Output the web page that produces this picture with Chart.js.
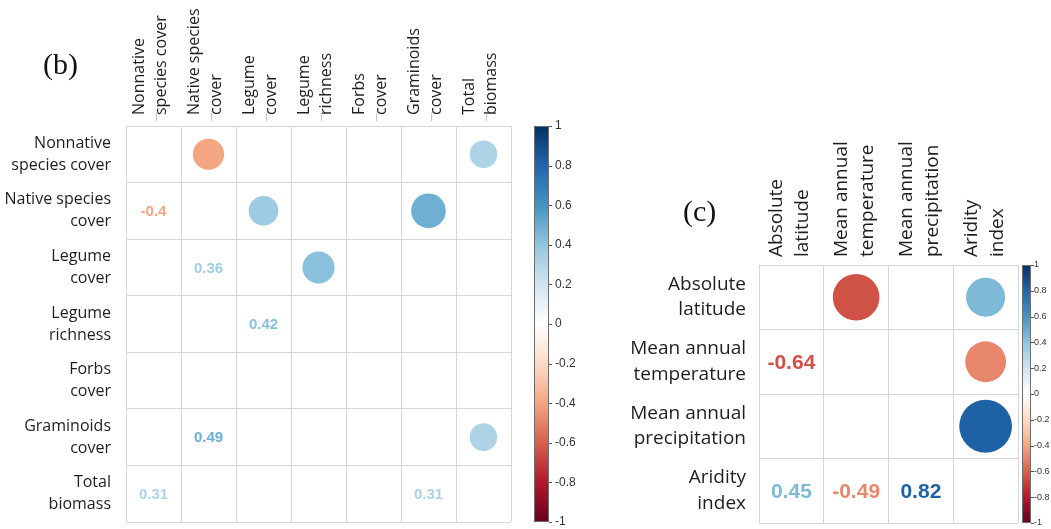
<!DOCTYPE html>
<html>
<head>
<meta charset="utf-8">
<script src="https://cdn.jsdelivr.net/npm/chart.js@4.4.1/dist/chart.umd.min.js"></script>
<style>
  html, body { margin: 0; padding: 0; background: #ffffff; }
  #wrap { position: relative; width: 1051px; height: 529px; overflow: hidden; background: #ffffff; }
  canvas { position: absolute; top: 0; }
  #chartB { left: 0; }
  #chartC { left: 600px; }
</style>
</head>
<body>
<div id="wrap">
  <canvas id="chartB" width="600" height="529"></canvas>
  <canvas id="chartC" width="451" height="529"></canvas>
</div>
<script>
// ---- Panel (b): vegetation variables ----
const bVars = [
  "Nonnative species cover",
  "Native species cover",
  "Legume cover",
  "Legume richness",
  "Forbs cover",
  "Graminoids cover",
  "Total biomass"
];
const bLines = [
  ["Nonnative", "species cover"],
  ["Native species", "cover"],
  ["Legume", "cover"],
  ["Legume", "richness"],
  ["Forbs", "cover"],
  ["Graminoids", "cover"],
  ["Total", "biomass"]
];
// significant pairs: variable A (circle row), variable B (circle column), r
const bPairA = [0, 0, 1, 1, 2, 5];
const bPairB = [1, 6, 2, 5, 3, 6];
const bPairR = [-0.4, 0.31, 0.36, 0.49, 0.42, 0.31];

// ---- Panel (c): climate variables ----
const cVars = [
  "Absolute latitude",
  "Mean annual temperature",
  "Mean annual precipitation",
  "Aridity index"
];
const cLines = [
  ["Absolute", "latitude"],
  ["Mean annual", "temperature"],
  ["Mean annual", "precipitation"],
  ["Aridity", "index"]
];
const cPairA = [0, 0, 1, 2];
const cPairB = [1, 3, 3, 3];
const cPairR = [-0.64, 0.45, -0.49, 0.82];

// colour-bar range
const barMin = -1;
const barMax = 1;
const barStep = 0.2;

// RdBu diverging palette, from -1 to 1
const rdbuStops = ["#67001F", "#B2182B", "#D6604D", "#F4A582", "#FDDBC7", "#FFFFFF",
                   "#D1E5F0", "#92C5DE", "#4393C3", "#2166AC", "#053061"];

const GRID = "#d6d6d6";
const INK = "#1e1e1e";

function hexRgb(h) {
  return [parseInt(h.slice(1, 3), 16), parseInt(h.slice(3, 5), 16), parseInt(h.slice(5, 7), 16)];
}
function corrColor(r) {
  const t = (Math.max(-1, Math.min(1, r)) + 1) / 2 * (rdbuStops.length - 1);
  const i = Math.min(Math.floor(t), rdbuStops.length - 2);
  const f = t - i;
  const a = hexRgb(rdbuStops[i]), b = hexRgb(rdbuStops[i + 1]);
  const c = a.map((v, k) => Math.round(v + (b[k] - v) * f));
  return `rgb(${c[0]},${c[1]},${c[2]})`;
}
function fmtTick(v) {
  const n = Math.round(v * 10) / 10;
  return n === 0 ? "0" : String(n);
}
// axes keep their fixed size and never ask the layout for label overflow room
function fixBox(size) {
  return s => {
    if (s.isHorizontal()) s.height = size; else s.width = size;
    s.paddingTop = 0; s.paddingBottom = 0; s.paddingLeft = 0; s.paddingRight = 0;
  };
}

// rotated two-line column headers, placed at the x scale's category centres
const colLabelPlugin = {
  id: "colLabels",
  afterDraw(chart, args, o) {
    const sx = chart.scales.x;
    const ctx = chart.ctx;
    const y0 = chart.chartArea.top - o.gap;
    ctx.save();
    ctx.font = `${o.size}px 'Open Sans', sans-serif`;
    ctx.fillStyle = INK;
    ctx.textAlign = "left";
    ctx.textBaseline = "middle";
    o.lines.forEach((lines, i) => {
      const cx = sx.getPixelForValue(i);
      lines.forEach((line, j) => {
        const lx = cx + o.offsets[j];
        ctx.save();
        ctx.translate(lx, y0);
        ctx.rotate(-Math.PI / 2);
        ctx.fillText(line, 0, 0);
        ctx.restore();
        if (o.marks && j === 1) {
          ctx.save();
          ctx.strokeStyle = "#c4c4c4";
          ctx.lineWidth = 1;
          ctx.beginPath();
          ctx.moveTo(Math.round(lx - 6) + 0.5, y0 - 2);
          ctx.lineTo(Math.round(lx - 6) + 0.5, y0 + 6);
          ctx.stroke();
          ctx.restore();
        }
      });
    });
    ctx.restore();
  }
};

// coefficient text for the lower triangle, at the positions of dataset 1
const valueTextPlugin = {
  id: "valueText",
  afterDatasetsDraw(chart, args, o) {
    const meta = chart.getDatasetMeta(1);
    const ds = chart.data.datasets[1];
    const ctx = chart.ctx;
    ctx.save();
    ctx.font = `bold ${o.size}px 'Liberation Sans', Arial, sans-serif`;
    ctx.textAlign = "center";
    ctx.textBaseline = "middle";
    meta.data.forEach((el, k) => {
      const v = ds.data[k].v;
      ctx.fillStyle = corrColor(v);
      ctx.fillText(String(v), el.x, el.y + o.dy);
    });
    ctx.restore();
  }
};

// gradient colour bar drawn along the "cb" scale
const colorBarPlugin = {
  id: "colorBar",
  afterDraw(chart, args, o) {
    const s = chart.scales.cb;
    const ctx = chart.ctx;
    const top = s.getPixelForValue(barMax);
    const bottom = s.getPixelForValue(barMin);
    const x0 = s.left + o.offset;
    const g = ctx.createLinearGradient(0, top, 0, bottom);
    rdbuStops.slice().reverse().forEach((c, i) => g.addColorStop(i / (rdbuStops.length - 1), c));
    ctx.save();
    ctx.fillStyle = g;
    ctx.fillRect(x0, top, o.width, bottom - top);
    ctx.strokeStyle = "#6e6e6e";
    ctx.lineWidth = 1;
    ctx.strokeRect(x0 + 0.5, top + 0.5, o.width - 1, bottom - top - 1);
    ctx.strokeStyle = "#555555";
    s.ticks.forEach(t => {
      const y = Math.round(s.getPixelForValue(t.value)) + 0.5;
      ctx.beginPath();
      ctx.moveTo(x0 + o.width, y);
      ctx.lineTo(x0 + o.width + o.tick, y);
      ctx.stroke();
    });
    ctx.restore();
  }
};

// panel tag such as "(b)"
const panelTagPlugin = {
  id: "panelTag",
  afterDraw(chart, args, o) {
    const ctx = chart.ctx;
    ctx.save();
    ctx.font = `${o.size}px 'Liberation Serif', serif`;
    ctx.fillStyle = "#111111";
    ctx.textAlign = "left";
    ctx.textBaseline = "middle";
    ctx.fillText(o.text, o.x, o.y);
    ctx.restore();
  }
};

function corrPanel(canvasId, cfg) {
  const n = cfg.vars.length;
  // upper triangle: circles; lower triangle: coefficients
  const circles = cfg.pairA.map((a, k) => ({ x: cfg.vars[cfg.pairB[k]], y: cfg.vars[a], v: cfg.pairR[k], r: 0 }));
  const numbers = cfg.pairA.map((a, k) => ({ x: cfg.vars[a], y: cfg.vars[cfg.pairB[k]], v: cfg.pairR[k], r: 0 }));
  const rowFont = { family: "'Open Sans', sans-serif", size: cfg.fontSize, lineHeight: cfg.lineHeight };

  const chart = new Chart(document.getElementById(canvasId), {
    type: "bubble",
    data: {
      datasets: [
        { data: circles, borderWidth: 0, clip: false, backgroundColor: circles.map(p => corrColor(p.v)) },
        { data: numbers, borderWidth: 0, clip: false, backgroundColor: "rgba(0,0,0,0)" }
      ]
    },
    options: {
      responsive: false,
      animation: false,
      devicePixelRatio: 1,
      events: [],
      layout: { autoPadding: false, padding: { left: 0, top: 0, right: 0, bottom: cfg.padBottom } },
      plugins: {
        legend: { display: false },
        tooltip: { enabled: false },
        colLabels: { lines: cfg.lines, size: cfg.fontSize, gap: cfg.colGap, offsets: cfg.colOffsets, marks: cfg.marks },
        valueText: { size: cfg.numSize, dy: 1 },
        colorBar: { offset: cfg.barOffset, width: cfg.barWidth, tick: 3 },
        panelTag: cfg.tag
      },
      scales: {
        x: {
          type: "category",
          labels: cfg.vars,
          position: "top",
          offset: true,
          grid: { offset: true, color: GRID, drawTicks: false },
          border: { color: GRID },
          ticks: { display: false },
          afterFit: fixBox(cfg.top)
        },
        y: {
          type: "category",
          labels: cfg.vars,
          position: "left",
          offset: true,
          grid: { offset: true, color: GRID, drawTicks: false },
          border: { color: GRID },
          ticks: {
            autoSkip: false, padding: cfg.rowPad, color: INK, font: rowFont,
            callback: (value, i) => cfg.lines[i]
          },
          afterFit: fixBox(cfg.left)
        },
        cb: {
          type: "linear",
          position: "right",
          min: barMin,
          max: barMax,
          grid: { display: false, drawTicks: false },
          border: { display: false },
          ticks: {
            stepSize: barStep,
            autoSkip: false,
            padding: cfg.cbPad,
            color: "#333333",
            font: { family: "'Liberation Sans', Arial, sans-serif", size: cfg.cbFont },
            callback: v => fmtTick(v)
          },
          afterFit: fixBox(cfg.cbWidth)
        }
      }
    },
    plugins: [colLabelPlugin, valueTextPlugin, colorBarPlugin, panelTagPlugin]
  });

  // circle area proportional to |r|: radius = 0.45 * sqrt(|r|) * cell width
  const cell = chart.scales.x.width / n;
  circles.forEach(p => { p.r = 0.45 * Math.sqrt(Math.abs(p.v)) * cell; });
  chart.update();
  return chart;
}

corrPanel("chartB", {
  vars: bVars, lines: bLines, pairA: bPairA, pairB: bPairB, pairR: bPairR,
  left: 126, top: 126, padBottom: 7, cbWidth: 89,
  fontSize: 16, lineHeight: 1.375, rowPad: 15,
  colGap: 11, colOffsets: [-14, 8], marks: true,
  numSize: 15,
  barOffset: 23, barWidth: 15, cbPad: 44, cbFont: 12,
  tag: { text: "(b)", x: 43, y: 66, size: 30 }
});

corrPanel("chartC", {
  vars: cVars, lines: cLines, pairA: cPairA, pairB: cPairB, pairR: cPairR,
  left: 159, top: 265, padBottom: 6, cbWidth: 33,
  fontSize: 19, lineHeight: 1.35, rowPad: 13,
  colGap: 8, colOffsets: [-14.5, 11.5], marks: false,
  numSize: 21,
  barOffset: 4, barWidth: 9, cbPad: 16, cbFont: 9,
  tag: { text: "(c)", x: 83, y: 213, size: 30 }
});
</script>
</body>
</html>
